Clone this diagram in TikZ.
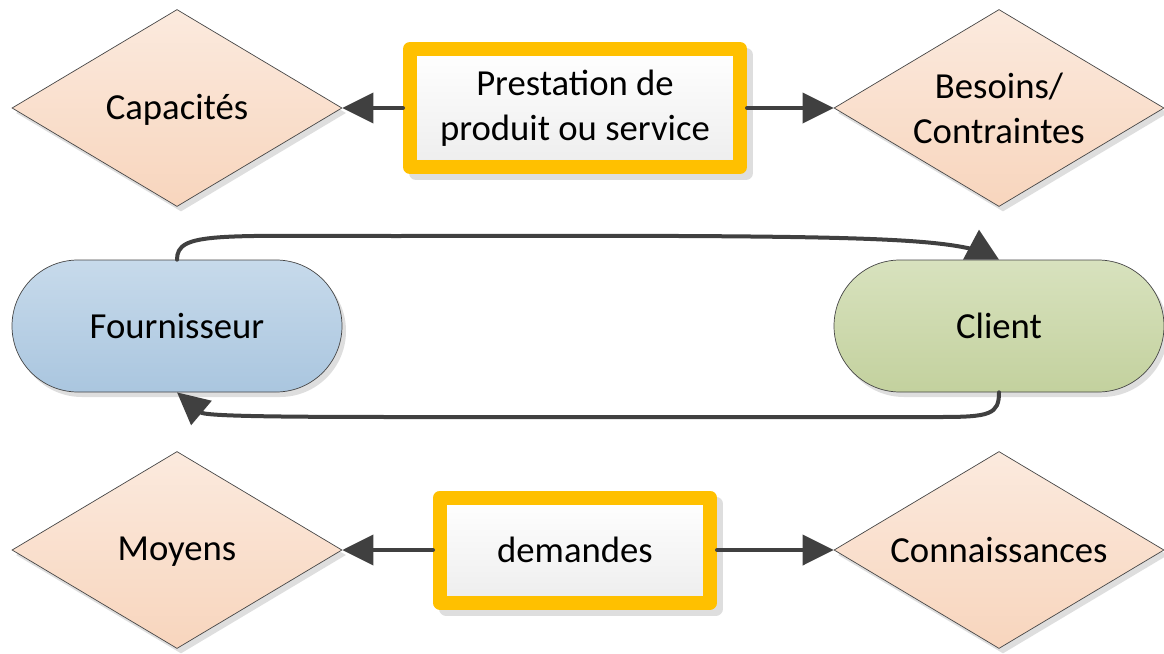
\documentclass[tikz,border=0pt]{standalone}
\usepackage{fontspec}
\setmainfont{Carlito}
\usetikzlibrary{shapes.geometric,shapes.misc,arrows.meta,shadows}
\definecolor{peachT}{RGB}{251,234,222}
\definecolor{peachB}{RGB}{248,213,189}
\definecolor{blueT}{RGB}{199,218,235}
\definecolor{blueB}{RGB}{170,198,223}
\definecolor{greenT}{RGB}{216,226,190}
\definecolor{greenB}{RGB}{195,209,158}
\definecolor{gold}{RGB}{255,192,0}
\definecolor{conncol}{RGB}{64,64,64}
\definecolor{shadowcol}{RGB}{222,222,222}
\definecolor{edgecol}{RGB}{70,70,70}
\begin{document}
\begin{tikzpicture}[x=1pt,y=-1pt,
 every node/.style={font=\fontsize{36.7}{44.8}\selectfont, inner sep=0pt},
 myshadow/.style={general shadow={shadow xshift=4pt, shadow yshift=-5pt, fill=shadowcol}},
 choice/.style={diamond, minimum width=330pt, minimum height=197pt, draw=edgecol, line width=0.7pt, top color=peachT, bottom color=peachB, myshadow},
 actor/.style={rounded rectangle, minimum width=330pt, minimum height=132pt, draw=edgecol, line width=0.7pt, myshadow},
 flowbox/.style={rectangle, draw=gold, line width=14pt, line join=round, top color=white, bottom color=black!7, general shadow={shadow xshift=6pt, shadow yshift=-6pt, fill=shadowcol, draw=shadowcol, line width=14pt, line join=round}, align=center},
 conn/.style={draw=conncol, line width=4pt, line cap=round, -{Triangle[length=31pt,width=30pt]}},
 curveconn/.style={draw=conncol, line width=4pt, line cap=round}
]
\useasboundingbox (0,0) rectangle (1164,653);

\node[choice, label={[yshift=-2pt]center:Capacités}] (cap) at (177,108) {};
\node[choice, label={[align=center]center:Besoins/\\Contraintes}] (bes) at (999,108) {};
\node[choice, label={[yshift=-2pt]center:Moyens}] (moy) at (177,550) {};
\node[choice, label={center:Connaissances}] (con) at (999,550) {};

\node[flowbox, minimum width=330pt, minimum height=118pt] (pre) at (575,108) {Prestation de\\produit ou service};
\node[flowbox, minimum width=270pt, minimum height=105pt] (dem) at (575,550) {demandes};

\node[actor, top color=blueT, bottom color=blueB] (fou) at (177,326) {Fournisseur};
\node[actor, top color=greenT, bottom color=greenB] (cli) at (999,326) {Client};

\draw[conn] (pre.west) -- (cap.east);
\draw[conn] (pre.east) -- (bes.west);
\draw[conn] (dem.west) -- (moy.east);
\draw[conn] (dem.east) -- (con.west);

% top connector Fournisseur -> Client
\draw[curveconn] (fou.north) .. controls +(0,-28) and (215,236) .. (400,236) .. controls (820,235) and (920,237) .. (972,249);
\fill[conncol] ([xshift=-36pt]cli.north) -- ([xshift=-20pt,yshift=30pt]cli.north) -- (cli.north) -- cycle;

% bottom connector Client -> Fournisseur
\draw[curveconn, -{Triangle[length=32pt,width=31pt]}] (cli.south) .. controls +(0,22) and (990,417) .. (940,417) -- (400,417) .. controls (270,417) and (205,416) .. (fou.south);
\end{tikzpicture}
\end{document}
